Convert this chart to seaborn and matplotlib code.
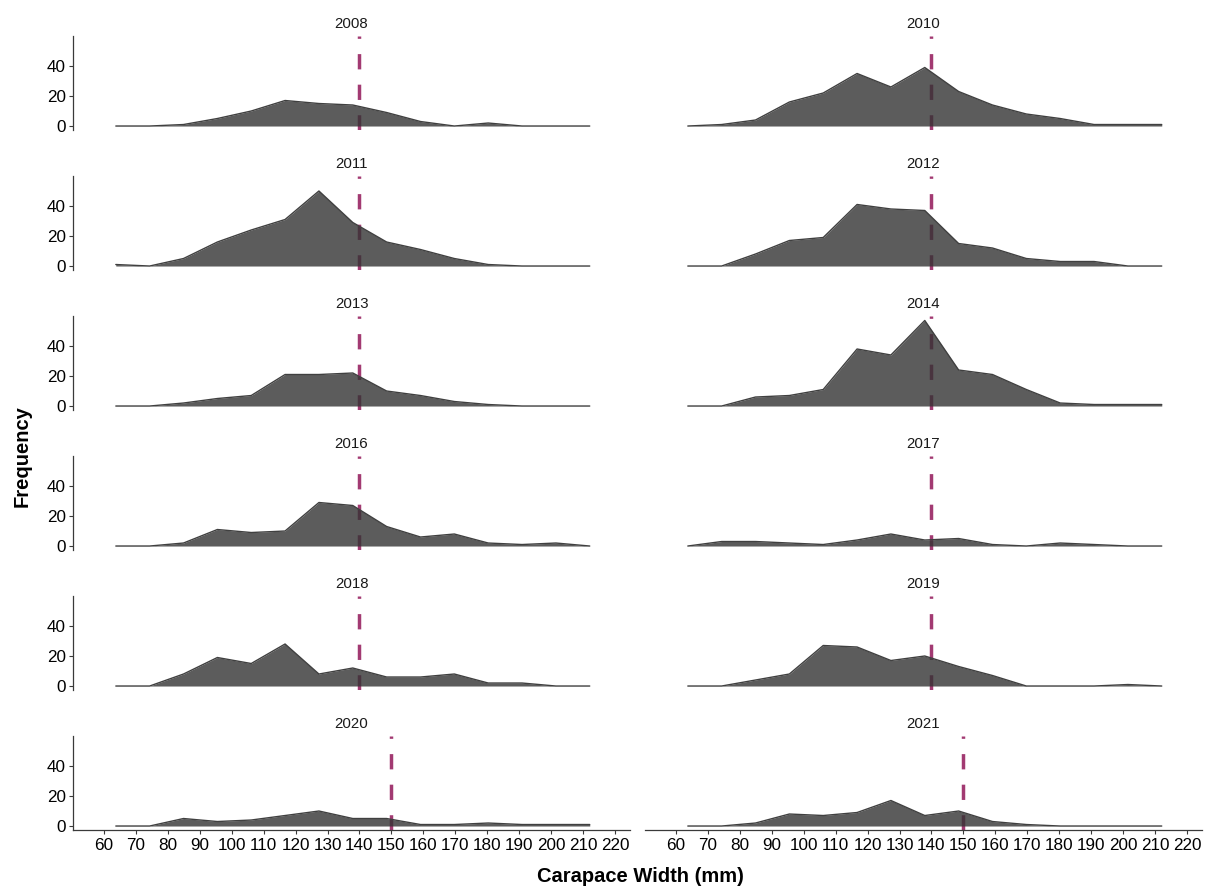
import matplotlib
matplotlib.use("Agg")
import matplotlib.pyplot as plt
import seaborn as sns
import pandas as pd

sns.set_theme(style="white")
plt.rcParams['font.family'] = ['Liberation Sans', 'DejaVu Sans']

# ---- data ----
years = ["2008", "2010", "2011", "2012", "2013", "2014",
         "2016", "2017", "2018", "2019", "2020", "2021"]
bin_mid = [63.7, 74.3, 84.9, 95.5, 106.1, 116.7, 127.3, 137.9,
           148.5, 159.1, 169.7, 180.3, 190.9, 201.5, 212.1]
freq_2008 = [0, 0, 1, 5, 10, 17, 15, 14, 9, 3, 0, 2, 0, 0, 0]
freq_2010 = [0, 1, 4, 16, 22, 35, 26, 39, 23, 14, 8, 5, 1, 1, 1]
freq_2011 = [1, 0, 5, 16, 24, 31, 50, 29, 16, 11, 5, 1, 0, 0, 0]
freq_2012 = [0, 0, 8, 17, 19, 41, 38, 37, 15, 12, 5, 3, 3, 0, 0]
freq_2013 = [0, 0, 2, 5, 7, 21, 21, 22, 10, 7, 3, 1, 0, 0, 0]
freq_2014 = [0, 0, 6, 7, 11, 38, 34, 57, 24, 21, 11, 2, 1, 1, 1]
freq_2016 = [0, 0, 2, 11, 9, 10, 29, 27, 13, 6, 8, 2, 1, 2, 0]
freq_2017 = [0, 3, 3, 2, 1, 4, 8, 4, 5, 1, 0, 2, 1, 0, 0]
freq_2018 = [0, 0, 8, 19, 15, 28, 8, 12, 6, 6, 8, 2, 2, 0, 0]
freq_2019 = [0, 0, 4, 8, 27, 26, 17, 20, 13, 7, 0, 0, 0, 1, 0]
freq_2020 = [0, 0, 5, 3, 4, 7, 10, 5, 5, 1, 1, 2, 1, 1, 1]
freq_2021 = [0, 0, 2, 8, 7, 9, 17, 7, 10, 3, 1, 0, 0, 0, 0]
ref_width = [140, 140, 140, 140, 140, 140, 140, 140, 140, 140, 150, 150]
x_ticks = [60, 70, 80, 90, 100, 110, 120, 130, 140, 150, 160, 170,
           180, 190, 200, 210, 220]
y_ticks = [0, 20, 40]

freqs = [freq_2008, freq_2010, freq_2011, freq_2012, freq_2013, freq_2014,
         freq_2016, freq_2017, freq_2018, freq_2019, freq_2020, freq_2021]
rows = []
for yr, f in zip(years, freqs):
    for x, v in zip(bin_mid, f):
        rows.append({"year": yr, "width": x, "freq": v})
df = pd.DataFrame(rows)

# ---- figure ----
W, H = 1216, 889
fig = plt.figure(figsize=(W / 100, H / 100), dpi=100)

col_left = [73, 645]
ax_w = 557
row_top0 = 36.2
row_step = 140
ax_h = 94.1

spine_col = "#3a3a3a"
line_col = "#A23A72"

for k, yr in enumerate(years):
    r, c = divmod(k, 2)
    top = row_top0 + r * row_step
    ax = fig.add_axes([col_left[c] / W, 1 - (top + ax_h) / H, ax_w / W, ax_h / H])
    d = df[df["year"] == yr]
    ax.axvline(ref_width[k], color=line_col, lw=2.5, ls=(0, (4.4, 4.4)), zorder=1)
    ax.fill_between(d["width"], d["freq"], 0, color="#333333", alpha=0.8,
                    lw=0, zorder=2)
    sns.lineplot(data=d, x="width", y="freq", ax=ax, color="#404040",
                 lw=1.0, zorder=3)
    ax.set_xlim(50.3, 224.7)
    ax.set_ylim(-2.85, 59.85)
    ax.set_xlabel("")
    ax.set_ylabel("")
    for s in ax.spines.values():
        s.set_visible(False)
    ax.set_title(yr, fontsize=10.8, color="#1a1a1a", pad=6)
    ax.set_xticks(x_ticks)
    ax.set_yticks(y_ticks)
    ax.tick_params(axis="both", which="both", length=3.2, width=0.8,
                   color=spine_col, labelsize=12.3, labelcolor="black", pad=2)
    if c == 0:
        ax.spines["left"].set_visible(True)
        ax.spines["left"].set_color(spine_col)
        ax.spines["left"].set_linewidth(0.9)
        ax.tick_params(axis="y", left=True, labelleft=True)
    else:
        ax.tick_params(axis="y", left=False, labelleft=False)
    if r == 5:
        ax.spines["bottom"].set_visible(True)
        ax.spines["bottom"].set_color(spine_col)
        ax.spines["bottom"].set_linewidth(0.9)
        ax.tick_params(axis="x", bottom=True, labelbottom=True)
    else:
        ax.tick_params(axis="x", bottom=False, labelbottom=False)
    ax.grid(False)

fig.text(640 / W, 1 - 877 / H, "Carapace Width (mm)", ha="center", va="center",
         fontsize=14.5, fontweight="bold", color="black")
fig.text(22 / W, 1 - 456 / H, "Frequency", ha="center", va="center",
         rotation=90, fontsize=14.5, fontweight="bold", color="black")

fig.savefig("out.png", dpi=100, facecolor="white")
